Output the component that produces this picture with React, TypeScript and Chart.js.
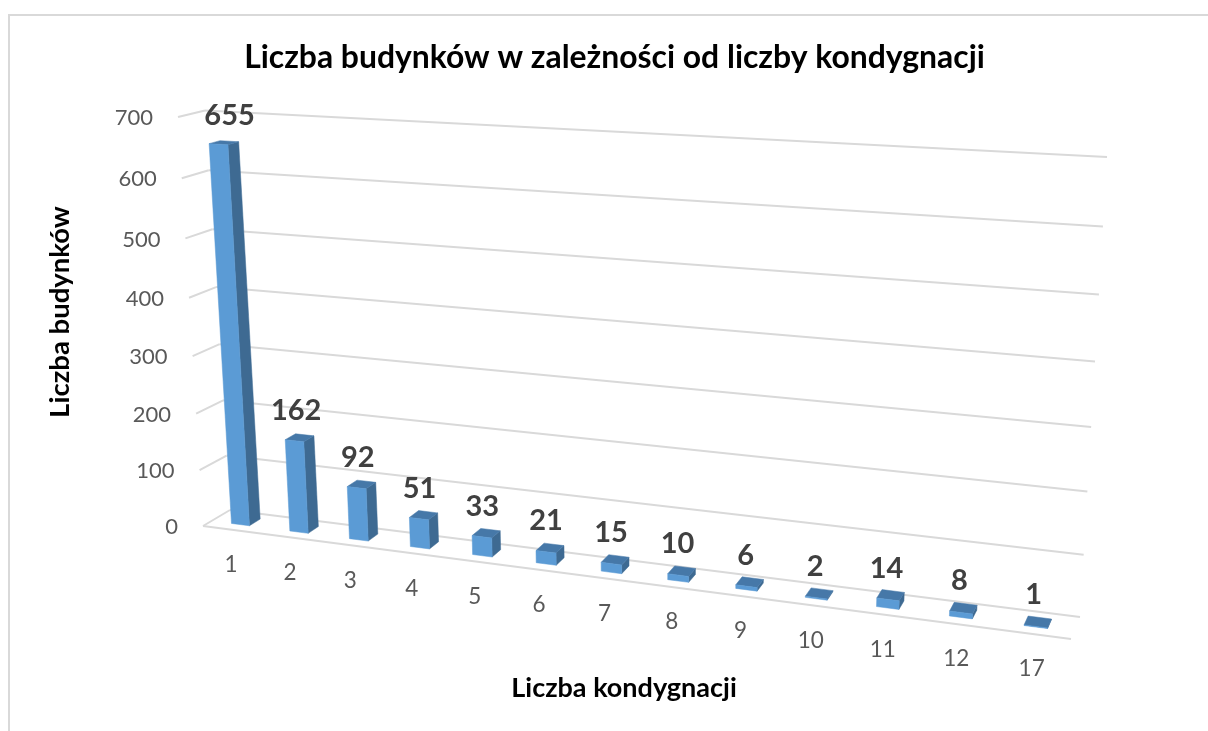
import React, { useEffect, useRef } from "react";
import { Chart, registerables } from "chart.js";

Chart.register(...registerables);

const categories = ["1", "2", "3", "4", "5", "6", "7", "8", "9", "10", "11", "12", "17"];
const buildings = [655, 162, 92, 51, 33, 21, 15, 10, 6, 2, 14, 8, 1];
const chartTitle = "Liczba budynków w zależności od liczby kondygnacji";
const xAxisTitle = "Liczba kondygnacji";
const yAxisTitle = "Liczba budynków";

type Pt = [number, number];
type H = number[];

// Corners of the perspective box, page pixels: bottom-left, bottom-right, top-right, top-left
const FRONT_PLANE: Pt[] = [[203, 526], [1071, 639], [1098, 169.5], [178, 117]];
const BACK_PLANE: Pt[] = [[230, 510], [1080, 617], [1107, 157], [205, 110.5]];
const BAR_DEPTH: [number, number] = [0.32, 0.73];

function homography(q: Pt[]): H {
  const [[x0, y0], [x1, y1], [x2, y2], [x3, y3]] = q;
  const dx1 = x1 - x2, dx2 = x3 - x2, dx3 = x0 - x1 + x2 - x3;
  const dy1 = y1 - y2, dy2 = y3 - y2, dy3 = y0 - y1 + y2 - y3;
  const den = dx1 * dy2 - dx2 * dy1;
  const g = (dx3 * dy2 - dx2 * dy3) / den;
  const h = (dx1 * dy3 - dx3 * dy1) / den;
  return [x1 - x0 + g * x1, x3 - x0 + h * x3, x0, y1 - y0 + g * y1, y3 - y0 + h * y3, y0, g, h];
}
function apply(m: H, u: number, v: number): Pt {
  const d = m[6] * u + m[7] * v + 1;
  return [(m[0] * u + m[1] * v + m[2]) / d, (m[3] * u + m[4] * v + m[5]) / d];
}
const HF = homography(FRONT_PLANE);
const HB = homography(BACK_PLANE);
function project(u: number, v: number, w: number): Pt {
  const a = apply(HF, u, v);
  const b = apply(HB, u, v);
  return [a[0] + (b[0] - a[0]) * w, a[1] + (b[1] - a[1]) * w];
}

function line(ctx: CanvasRenderingContext2D, a: Pt, b: Pt) {
  ctx.beginPath();
  ctx.moveTo(a[0], a[1]);
  ctx.lineTo(b[0], b[1]);
  ctx.stroke();
}
function face(ctx: CanvasRenderingContext2D, pts: Pt[], fill: string) {
  ctx.beginPath();
  pts.forEach((p, i) => (i ? ctx.lineTo(p[0], p[1]) : ctx.moveTo(p[0], p[1])));
  ctx.closePath();
  ctx.fillStyle = fill;
  ctx.fill();
  ctx.strokeStyle = fill;
  ctx.lineWidth = 0.5;
  ctx.stroke();
}

const perspectivePlugin = {
  id: "perspective",
  beforeDatasetsDraw(chart: any) {
    const { ctx, chartArea: area, scales } = chart;
    const xs = scales.x;
    const ys = scales.y;
    const toU = (px: number) => (px - area.left) / (area.right - area.left);
    const toV = (py: number) => (area.bottom - py) / (area.bottom - area.top);
    ctx.save();

    // frame
    ctx.strokeStyle = "#d9d9d9";
    ctx.lineWidth = 2;
    ctx.beginPath();
    ctx.moveTo(9, 731);
    ctx.lineTo(9, 15);
    ctx.lineTo(1208, 15);
    ctx.stroke();

    // gridlines and value labels
    ctx.lineCap = "butt";
    ys.ticks.forEach((t: any) => {
      const v = toV(ys.getPixelForValue(t.value));
      const f = project(0, v, 0);
      const bl = project(0, v, 1);
      const br = project(1, v, 1);
      ctx.strokeStyle = "#d9d9d9";
      ctx.lineWidth = 2;
      line(ctx, f, bl);
      line(ctx, bl, br);
      ctx.fillStyle = "#595959";
      ctx.font = "22px Lato";
      ctx.textAlign = "right";
      ctx.textBaseline = "middle";
      ctx.fillText(String(t.value), f[0] - 25, f[1] + 1);
    });
    ctx.strokeStyle = "#d9d9d9";
    ctx.lineWidth = 2;
    line(ctx, project(0, 0, 0), project(1, 0, 0));

    // bars
    const meta = chart.getDatasetMeta(0);
    const tops: Pt[] = [];
    meta.data.forEach((el: any, i: number) => {
      const p = el.getProps(["x", "y", "base", "width"], true);
      const u0 = toU(p.x - p.width / 2);
      const u1 = toU(p.x + p.width / 2);
      const v0 = toV(p.base);
      const v1 = toV(p.y);
      const [w0, w1] = BAR_DEPTH;
      face(ctx, [project(u1, v0, w0), project(u1, v0, w1), project(u1, v1, w1), project(u1, v1, w0)], "#3e6a92");
      face(ctx, [project(u0, v1, w0), project(u1, v1, w0), project(u1, v1, w1), project(u0, v1, w1)], "#4678a8");
      face(ctx, [project(u0, v0, w0), project(u1, v0, w0), project(u1, v1, w0), project(u0, v1, w0)], "#5b9bd5");
      const top = project((u0 + u1) / 2, v1, (w0 + w1) / 2);
      // labels drift right as the bar leans into the picture
      tops[i] = [top[0] + 11 * v1 * v1, top[1]];

      // category label
      const c = project((u0 + u1) / 2, 0, 0);
      ctx.fillStyle = "#595959";
      ctx.font = "22.5px Lato";
      ctx.textAlign = "center";
      ctx.textBaseline = "middle";
      ctx.fillText(xs.getLabelForValue(i), c[0] - 1, c[1] + 35);
    });

    // value labels
    ctx.fillStyle = "#404040";
    ctx.font = "bold 29px Lato";
    ctx.textAlign = "center";
    ctx.textBaseline = "middle";
    tops.forEach((t, i) => ctx.fillText(String(buildings[i]), t[0] - 4, t[1] - 27));

    // axis titles
    ctx.fillStyle = "#000000";
    ctx.font = "bold 27px Lato";
    ctx.fillText(xAxisTitle, 624, 688);
    ctx.save();
    ctx.translate(60, 312);
    ctx.rotate(-Math.PI / 2);
    ctx.font = "bold 27.5px Lato";
    ctx.fillText(yAxisTitle, 0, 0);
    ctx.restore();

    ctx.restore();
    return false;
  },
};

export default function App() {
  const ref = useRef<HTMLCanvasElement>(null);
  useEffect(() => {
    if (!ref.current) return;
    const chart = new Chart(ref.current, {
      type: "bar",
      data: {
        labels: categories,
        datasets: [
          {
            label: yAxisTitle,
            data: buildings,
            backgroundColor: "#5b9bd5",
            categoryPercentage: 1,
            barPercentage: 0.31,
          },
        ],
      },
      options: {
        responsive: false,
        animation: false,
        layout: { padding: { left: 21, top: 0 } },
        plugins: {
          legend: { display: false },
          tooltip: { enabled: false },
          title: {
            display: true,
            text: chartTitle,
            color: "#000000",
            font: { family: "Lato", size: 31.9, weight: "bold" },
            padding: { top: 39, bottom: 10 },
          },
        },
        scales: {
          x: { display: false },
          y: { display: false, min: 0, max: 700, ticks: { stepSize: 100 } },
        },
      },
      plugins: [perspectivePlugin],
    } as any);
    return () => chart.destroy();
  }, []);
  return (
    <canvas
      ref={ref}
      width={1208}
      height={731}
      style={{ display: "block", position: "fixed", left: 0, top: 0 }}
    />
  );
}
